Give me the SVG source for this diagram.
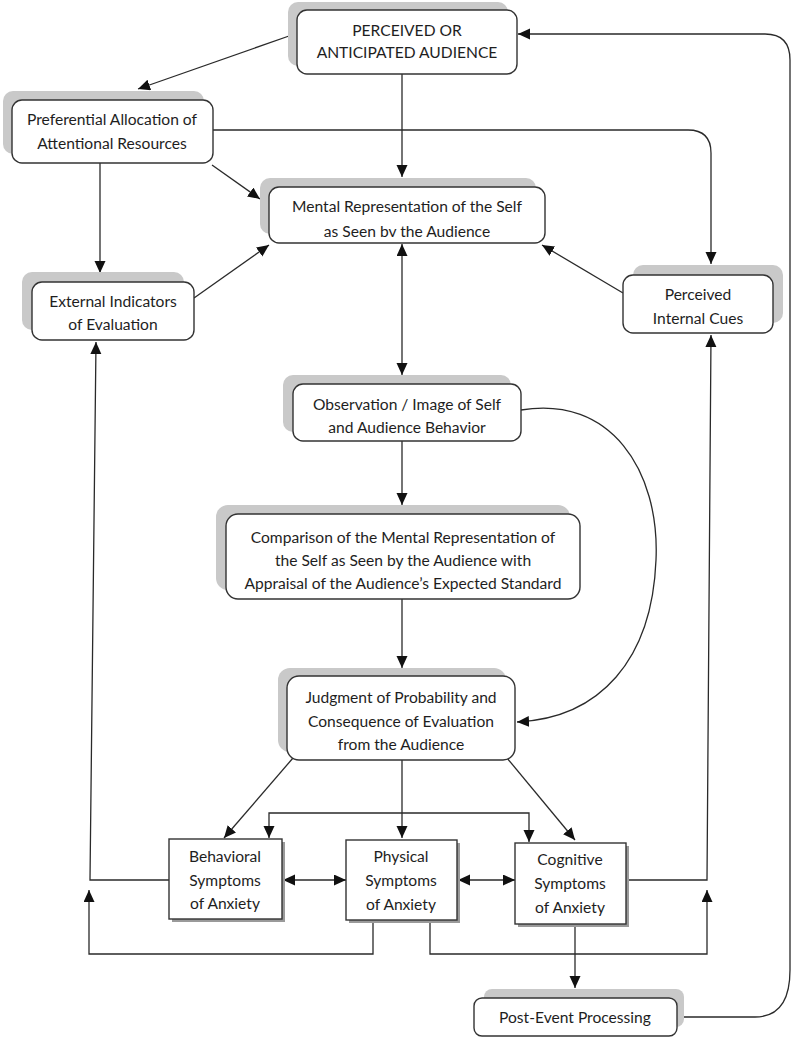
<svg xmlns="http://www.w3.org/2000/svg" width="800" height="1038" viewBox="0 0 800 1038">
<defs>
<marker id="ah" markerWidth="13" markerHeight="12" refX="12" refY="5.5" orient="auto-start-reverse" markerUnits="userSpaceOnUse">
<path d="M0,0 L12,5.5 L0,11 z" fill="#111"/>
</marker>
<style>
.sh{fill:#c9c9c9;}
.bx{fill:#fff;stroke:#333;stroke-width:1.4;}
.sq{fill:#fff;stroke:#333;stroke-width:1.4;}
.sqs{fill:#9a9a9a;}
.t{font-family:Lato,"Liberation Sans",sans-serif;font-size:15.6px;fill:#1e1e1e;text-anchor:middle;}
.c{fill:none;stroke:#2a2a2a;stroke-width:1.3;}
.a{marker-end:url(#ah);}
.aa{marker-start:url(#ah);marker-end:url(#ah);}
</style>
</defs>
<rect width="800" height="1038" fill="#fff"/>

<g id="connectors">
<path class="c a" d="M289,36 L138,89"/>
<path class="c a" d="M402,74 V177"/>
<path class="c a" d="M212,165 L260,199"/>
<path class="c a" d="M100,163 V273"/>
<path class="c a" d="M213,130 H688 Q711,130 711,153 V264"/>
<path class="c a" d="M194,298 L269,245"/>
<path class="c a" d="M623,293 L542,245"/>
<path class="c aa" d="M402,244 V375"/>
<path class="c a" d="M402,441 V505"/>
<path class="c a" d="M521,410 C610,395 660,470 656,560 C652,660 600,718 517,722"/>
<path class="c a" d="M402,599 V668"/>
<path class="c a" d="M293,758 L224,838"/>
<path class="c a" d="M402,760 V838"/>
<path class="c a" d="M507,758 L575,840"/>
<path class="c aa" d="M269,838 V813 H529 V842"/>
<path class="c aa" d="M283,880 H346"/>
<path class="c aa" d="M458,880 H515"/>
<path class="c a" d="M169,880 H90 L96,342"/>
<path class="c a" d="M373,920 V954 H89 V890"/>
<path class="c a" d="M430,920 V954 H707 V890"/>
<path class="c a" d="M626,880 H707 L711,335"/>
<path class="c a" d="M575,924 V988"/>
<path class="c a" d="M684,1017 H755 Q790,1017 790,970 V60 Q790,34 765,34 H518"/>
</g>

<g id="n1">
<rect class="sh" x="288" y="2" width="220" height="64" rx="10"/>
<rect class="bx" x="297" y="10" width="220" height="64" rx="10"/>
<text class="t" x="407" y="36">PERCEIVED OR</text>
<text class="t" x="407" y="58">ANTICIPATED AUDIENCE</text>
</g>
<g id="n2">
<rect class="sh" x="3" y="91" width="201" height="63" rx="10"/>
<rect class="bx" x="12" y="100" width="201" height="63" rx="10"/>
<text class="t" x="112" y="125">Preferential Allocation of</text>
<text class="t" x="112" y="149">Attentional Resources</text>
</g>
<g id="n3">
<rect class="sh" x="260" y="178" width="276" height="56" rx="10"/>
<rect class="bx" x="269" y="187" width="276" height="56" rx="10"/>
<text class="t" x="407" y="212">Mental Representation of the Self</text>
<text class="t" x="407" y="237">as Seen bv the Audience</text>
</g>
<g id="n4">
<rect class="sh" x="22" y="272" width="162" height="58" rx="10"/>
<rect class="bx" x="32" y="282" width="162" height="58" rx="10"/>
<text class="t" x="113" y="307">External Indicators</text>
<text class="t" x="113" y="330">of Evaluation</text>
</g>
<g id="n5">
<rect class="sh" x="633" y="265" width="150" height="58" rx="10"/>
<rect class="bx" x="623" y="275" width="150" height="58" rx="10"/>
<text class="t" x="698" y="300">Perceived</text>
<text class="t" x="698" y="324">Internal Cues</text>
</g>
<g id="n6">
<rect class="sh" x="283" y="375" width="228" height="57" rx="10"/>
<rect class="bx" x="293" y="384" width="228" height="57" rx="10"/>
<text class="t" x="407" y="410">Observation / Image of Self</text>
<text class="t" x="407" y="433">and Audience Behavior</text>
</g>
<g id="n7">
<rect class="sh" x="216" y="505" width="354" height="85" rx="12"/>
<rect class="bx" x="226" y="514" width="354" height="85" rx="12"/>
<text class="t" x="403" y="543">Comparison of the Mental Representation of</text>
<text class="t" x="403" y="566">the Self as Seen by the Audience with</text>
<text class="t" x="403" y="589">Appraisal of the Audience’s Expected Standard</text>
</g>
<g id="n8">
<rect class="sh" x="278" y="668" width="228" height="84" rx="12"/>
<rect class="bx" x="287" y="676" width="228" height="84" rx="12"/>
<text class="t" x="401" y="703">Judgment of Probability and</text>
<text class="t" x="401" y="727">Consequence of Evaluation</text>
<text class="t" x="401" y="750">from the Audience</text>
</g>
<g id="n9">
<rect class="sqs" x="172" y="842" width="113" height="80"/>
<rect class="sq" x="169" y="839" width="113" height="80"/>
<text class="t" x="225" y="862">Behavioral</text>
<text class="t" x="225" y="886">Symptoms</text>
<text class="t" x="225" y="909">of Anxiety</text>
</g>
<g id="n10">
<rect class="sqs" x="349" y="843" width="111" height="80"/>
<rect class="sq" x="346" y="840" width="111" height="80"/>
<text class="t" x="401" y="862">Physical</text>
<text class="t" x="401" y="886">Symptoms</text>
<text class="t" x="401" y="910">of Anxiety</text>
</g>
<g id="n11">
<rect class="sqs" x="518" y="846" width="111" height="81"/>
<rect class="sq" x="515" y="843" width="111" height="81"/>
<text class="t" x="570" y="865">Cognitive</text>
<text class="t" x="570" y="889">Symptoms</text>
<text class="t" x="570" y="913">of Anxiety</text>
</g>
<g id="n12">
<rect class="sh" x="484" y="989" width="200" height="38" rx="8"/>
<rect class="bx" x="474" y="998" width="203" height="38" rx="8"/>
<text class="t" x="575" y="1023">Post-Event Processing</text>
</g>
</svg>
